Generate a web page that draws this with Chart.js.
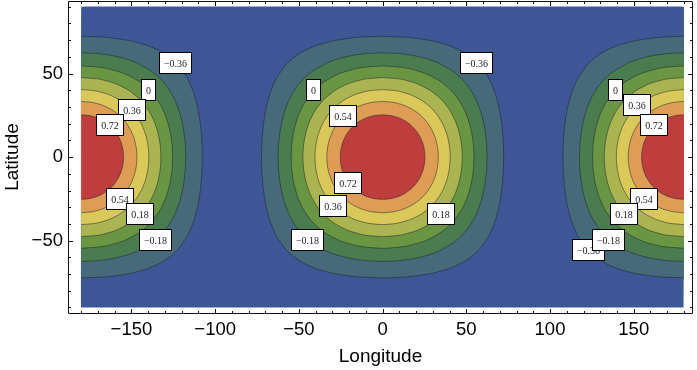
<!DOCTYPE html>
<html><head><meta charset="utf-8">
<script src="https://cdn.jsdelivr.net/npm/chart.js@4.4.0/dist/chart.umd.min.js"></script>
<style>html,body{margin:0;padding:0;background:#fff;}canvas{display:block;}</style>
</head><body>
<canvas id="c" width="697" height="370"></canvas>
<script>
// ---- data ----
const contourLevels = [-0.36, -0.18, 0, 0.18, 0.36, 0.54, 0.72];
// one quadrant of each contour: [longitude offset from lobe centre, latitude]
const ringM036 = [[0,72.3],[15.27,71.63],[28.55,69.75],[39.04,66.96],[46.98,63.55],[52.94,59.7],[57.45,55.6],[63.6,46.87],[67.38,37.76],[69.77,28.45],[71.24,19.01],[72.04,9.52],[72.3,0]];
const ringM018 = [[0,62.4],[9.47,61.99],[18.37,60.78],[26.34,58.87],[33.19,56.39],[43.72,50.13],[50.88,42.75],[55.69,34.72],[58.88,26.3],[60.91,17.64],[62.04,8.85],[62.4,0]];
const ring000 = [[0,54.6],[13.73,53.39],[25.69,50.0],[35.13,44.9],[42.13,38.64],[47.14,31.59],[50.63,24.06],[52.9,16.19],[54.18,8.14],[54.6,0]];
const ring018 = [[0,47.6],[10.76,46.66],[20.53,43.95],[28.7,39.76],[35.14,34.45],[39.99,28.34],[43.48,21.67],[45.82,14.63],[47.16,7.37],[47.6,0]];
const ring036 = [[0,40.4],[8.41,39.66],[16.23,37.52],[23.05,34.15],[28.68,29.77],[33.11,24.62],[36.39,18.91],[38.65,12.81],[39.97,6.46],[40.4,0]];
const ring054 = [[0,33.3],[6.5,32.73],[12.66,31.06],[18.18,28.39],[22.89,24.87],[26.71,20.66],[29.63,15.93],[31.69,10.82],[32.9,5.47],[33.3,0]];
const ring072 = [[0,25.3],[4.69,24.89],[9.18,23.68],[13.3,21.72],[16.9,19.11],[19.91,15.95],[22.26,12.34],[23.95,8.41],[24.96,4.26],[25.3,0]];
const lobeCentres = [0, 180, -180];
const plotLon = [-180, 180];
const plotLat = [-90, 90];

const xMajorTicks = [-150, -100, -50, 0, 50, 100, 150];
const xMinorTicks = [-180,-170,-160,-140,-130,-120,-110,-90,-80,-70,-60,-40,-30,-20,-10,10,20,30,40,60,70,80,90,110,120,130,140,160,170,180];
const yMajorTicks = [-50, 0, 50];
const yMinorTicks = [-90,-80,-70,-60,-40,-30,-20,-10,10,20,30,40,60,70,80,90];

const labelText = ['\u22120.36','0','0.36','0.72','0.54','0.18','\u22120.18',
                   '\u22120.36','0','0.54','0.72','0.36','0.18','\u22120.18',
                   '0','0.36','0.72','0.54','0.18','\u22120.36','\u22120.18'];
const labelLon = [-123.7,-139.7,-149.6,-162.8,-157.0,-144.9,-135.7,
                  56.1,-41.4,-23.7,-20.7,-29.6,34.9,-44.9,
                  139.1,152.0,161.9,156.0,144.0,122.9,134.8];
const labelLat = [56.4,40.3,28.3,18.9,-25.0,-33.9,-49.5,
                  56.4,40.3,24.6,-15.5,-29.4,-33.9,-49.4,
                  40.3,31.2,18.9,-25.0,-33.9,-55.9,-49.5];

// ---- styles ----
const bandColors = ['#3D5796','#466A7A','#4A7C4F','#6A9643','#AAB450','#DAC85A','#DE9D55','#BE3E3E'];
const lineColor = 'rgba(25,30,40,0.55)';
const rings = [ringM036, ringM018, ring000, ring018, ring036, ring054, ring072];

function fullRing(q, c) {
  const pts = [];
  q.forEach(([dx, lat]) => pts.push({x: c + dx, y: lat}));
  q.slice(0, -1).reverse().forEach(([dx, lat]) => pts.push({x: c + dx, y: -lat}));
  q.slice(1).forEach(([dx, lat]) => pts.push({x: c - dx, y: -lat}));
  q.slice(0, -1).reverse().forEach(([dx, lat]) => pts.push({x: c - dx, y: lat}));
  return pts;
}
function halfRing(q, c, dir) {
  const pts = q.map(([dx, lat]) => ({x: c + dir * dx, y: lat}));
  q.slice(0, -1).reverse().forEach(([dx, lat]) => pts.push({x: c + dir * dx, y: -lat}));
  return pts;
}

const datasets = [{
  data: [{x: plotLon[0], y: plotLat[0]}, {x: plotLon[1], y: plotLat[0]}, {x: plotLon[1], y: plotLat[1]}, {x: plotLon[0], y: plotLat[1]}, {x: plotLon[0], y: plotLat[0]}],
  showLine: true, pointRadius: 0, borderWidth: 0, tension: 0.001, backgroundColor: bandColors[0], fill: 'shape', order: 100
}];
rings.forEach((q, i) => {
  const common = {showLine: true, pointRadius: 0, tension: 0.2, borderWidth: 0.9, borderColor: lineColor,
                  backgroundColor: bandColors[i + 1], fill: 'shape', order: 90 - i * 10, label: String(contourLevels[i])};
  lobeCentres.forEach(c => {
    const data = c === 0 ? fullRing(q, c) : halfRing(q, c, c > 0 ? -1 : 1);
    datasets.push(Object.assign({}, common, {data}));
  });
});

const fmt = v => v < 0 ? '\u2212' + Math.abs(v) : String(v);
const tickFont = {family: "'Liberation Sans', Arial, sans-serif", size: 18.5};

const framePlugin = {
  id: 'frame',
  afterDraw(chart) {
    const {ctx, chartArea: a, scales: {x, y}} = chart;
    ctx.save();
    ctx.strokeStyle = '#111';
    ctx.lineWidth = 1;
    const L = Math.round(a.left) + 0.5, R = Math.round(a.right) - 0.5, T = Math.round(a.top) + 0.5, B = Math.round(a.bottom) + 0.5;
    ctx.beginPath();
    ctx.rect(L, T, R - L, B - T);
    const tick = (vals, len) => {
      vals.forEach(v => {
        const px = Math.round(x.getPixelForValue(v)) + 0.5;
        ctx.moveTo(px, B); ctx.lineTo(px, B - len);
        ctx.moveTo(px, T); ctx.lineTo(px, T + len);
      });
    };
    const tickY = (vals, len) => {
      vals.forEach(v => {
        const py = Math.round(y.getPixelForValue(v)) + 0.5;
        ctx.moveTo(L, py); ctx.lineTo(L + len, py);
        ctx.moveTo(R, py); ctx.lineTo(R - len, py);
      });
    };
    tick(xMajorTicks, 4.5); tick(xMinorTicks, 2.5);
    tickY(yMajorTicks, 4.5); tickY(yMinorTicks, 2.5);
    ctx.stroke();
    ctx.restore();
  }
};

const labelPlugin = {
  id: 'contourLabels',
  afterDatasetsDraw(chart) {
    const {ctx, scales: {x, y}} = chart;
    ctx.save();
    ctx.font = "10px 'Liberation Serif', 'Times New Roman', serif";
    ctx.textAlign = 'center';
    ctx.textBaseline = 'middle';
    labelText.forEach((t, i) => {
      const cx = x.getPixelForValue(labelLon[i]);
      const cy = y.getPixelForValue(labelLat[i]);
      const w = Math.round(ctx.measureText(t).width + 10), h = 22;
      const bx = Math.round(cx - w / 2), by = Math.round(cy - h / 2);
      ctx.fillStyle = '#fff';
      ctx.fillRect(bx, by, w, h);
      ctx.strokeStyle = '#000';
      ctx.lineWidth = 1;
      ctx.strokeRect(bx + 0.5, by + 0.5, w - 1, h - 1);
      ctx.fillStyle = '#1a1a2a';
      ctx.fillText(t, bx + w / 2, by + h / 2 + 1);
    });
    ctx.restore();
  }
};

new Chart(document.getElementById('c'), {
  type: 'scatter',
  data: {datasets},
  options: {
    responsive: false, animation: false, devicePixelRatio: 1, events: [],
    layout: {padding: {left: 0, right: 4, top: 1, bottom: 0}},
    plugins: {legend: {display: false}, tooltip: {enabled: false}, filler: {propagate: false}},
    scales: {
      x: {
        type: 'linear', min: -187.9, max: 185.4,
        grid: {display: false, drawTicks: false}, border: {display: false},
        afterBuildTicks: s => { s.ticks = xMajorTicks.map(v => ({value: v})); },
        afterFit: s => { s.height = 57; s.paddingLeft = 0; s.paddingRight = 0; },
        ticks: {font: tickFont, color: '#000', padding: 6, maxRotation: 0, autoSkip: false, callback: fmt},
        title: {display: true, text: 'Longitude', color: '#000', font: {family: "'Liberation Sans', Arial, sans-serif", size: 19}, padding: {top: 0, bottom: 2}}
      },
      y: {
        type: 'linear', min: -93.3, max: 93.4,
        grid: {display: false, drawTicks: false}, border: {display: false},
        afterBuildTicks: s => { s.ticks = yMajorTicks.map(v => ({value: v})); },
        afterFit: s => { s.width = 68; s.paddingTop = 0; s.paddingBottom = 0; },
        ticks: {font: tickFont, color: '#000', padding: 5, autoSkip: false, callback: fmt},
        title: {display: true, text: 'Latitude', color: '#000', font: {family: "'Liberation Sans', Arial, sans-serif", size: 19}, padding: {top: 1, bottom: 0}}
      }
    }
  },
  plugins: [framePlugin, labelPlugin]
});
</script>
</body></html>
